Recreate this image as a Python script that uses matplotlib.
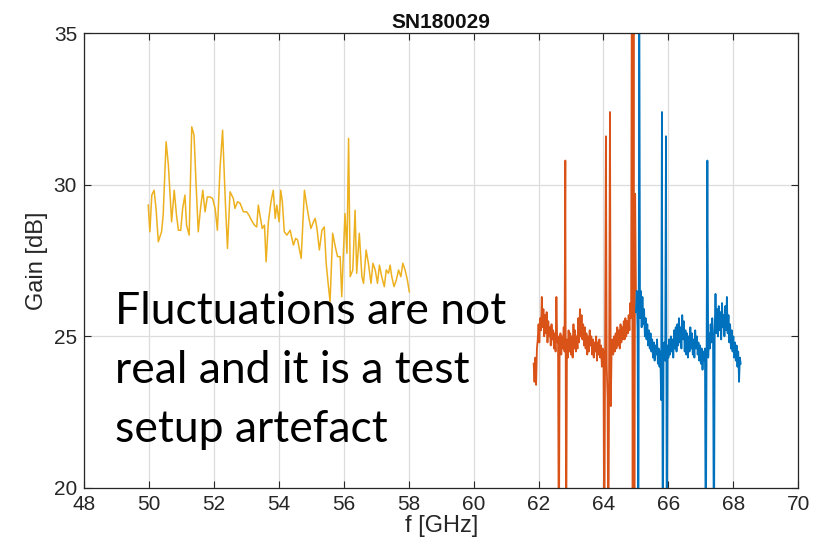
"""
plot.py

Gain vs frequency for unit SN180029 -- three swept bands, MATLAB-style look.
Saves out.png (823 x 544 px).
"""

import matplotlib
matplotlib.use("Agg")
import matplotlib.pyplot as plt
import numpy as np

OUT_PATH = "out.png"

# low band, 50-58 GHz
low_f = [
    49.98, 50.03, 50.09, 50.16, 50.22, 50.29, 50.39, 50.44, 50.53, 50.60,
    50.70, 50.78, 50.85, 50.91, 50.98, 51.04, 51.11, 51.16, 51.24, 51.32,
    51.39, 51.45, 51.52, 51.59, 51.66, 51.73, 51.80, 51.88, 51.96, 52.04,
    52.11, 52.19, 52.27, 52.35, 52.42, 52.50, 52.60, 52.65, 52.73, 52.81,
    52.91, 53.01, 53.08, 53.16, 53.25, 53.32, 53.37, 53.42, 53.49, 53.56,
    53.61, 53.68, 53.76, 53.83, 53.89, 53.94, 54.01, 54.06, 54.11, 54.17,
    54.25, 54.35, 54.45, 54.52, 54.58, 54.69, 54.79, 54.86, 54.91, 54.99,
    55.07, 55.12, 55.17, 55.25, 55.33, 55.40, 55.46, 55.53, 55.58, 55.66,
    55.74, 55.81, 55.89, 55.94, 55.99, 56.04, 56.10, 56.15, 56.20, 56.28,
    56.35, 56.40, 56.48, 56.56, 56.61, 56.69, 56.76, 56.84, 56.90, 56.97,
    57.04, 57.10, 57.17, 57.25, 57.31, 57.38, 57.43, 57.48, 57.55, 57.62,
    57.69, 57.76, 57.82, 57.89, 57.96, 58.02,
]
low_gain = [
    29.33, 28.45, 29.66, 29.82, 29.22, 28.12, 28.45, 29.00, 31.42, 30.65,
    28.78, 29.82, 29.00, 28.50, 28.50, 29.22, 29.66, 28.67, 28.34, 31.91,
    31.64, 30.10, 28.45, 29.22, 29.82, 29.11, 29.60, 29.60, 29.55, 29.22,
    28.50, 30.54, 31.80, 29.55, 27.90, 29.77, 29.55, 29.22, 29.44, 29.39,
    29.11, 29.11, 29.00, 28.83, 28.67, 28.61, 29.33, 29.00, 28.56, 28.67,
    27.46, 28.78, 29.44, 29.82, 28.89, 29.33, 28.78, 29.82, 29.44, 28.45,
    28.34, 28.50, 28.01, 28.23, 28.18, 27.57, 29.82, 29.33, 29.00, 28.56,
    28.78, 28.89, 28.61, 27.85, 28.50, 28.61, 27.41, 26.64, 26.15, 28.40,
    27.96, 27.63, 27.63, 26.31, 27.74, 29.05, 27.74, 31.53, 26.97, 27.19,
    29.16, 27.08, 28.40, 26.97, 26.75, 27.85, 27.41, 26.75, 27.41, 27.19,
    26.75, 27.35, 26.97, 26.64, 27.19, 27.08, 27.35, 26.97, 26.64, 26.86,
    27.19, 26.97, 27.41, 27.19, 26.86, 26.47,
]

# mid band, 61.85-65.0 GHz on a 25 MHz grid
mid_start, mid_stop = 61.85, 65.0
mid_gain = [
    24.1, 23.5, 24.3, 23.4, 24.6, 24.9, 25.4, 24.8, 25.6, 25.2,
    26.3, 25.3, 25.9, 25.0, 25.7, 25.1, 25.8, 24.8, 25.5, 25.0,
    25.3, 24.7, 25.4, 24.9, 25.2, 24.6, 25.1, 24.5, 26.3, 24.8,
    25.0, 17.0, 24.7, 25.1, 24.4, 25.0, 24.6, 25.3, 24.5, 30.8,
    17.0, 24.9, 24.3, 25.2, 24.5, 25.1, 24.4, 25.0, 24.3, 25.4,
    24.6, 25.2, 24.5, 25.0, 24.6, 25.6, 24.8, 25.9, 25.0, 25.7,
    24.9, 25.4, 24.7, 25.3, 24.6, 25.1, 24.4, 25.0, 24.5, 25.2,
    24.7, 25.0, 24.4, 24.9, 24.3, 24.8, 24.5, 25.0, 24.2, 24.8,
    24.4, 24.9, 24.3, 24.7, 24.0, 24.6, 24.5, 17.0, 24.8, 31.6,
    24.0, 23.0, 17.0, 24.6, 32.4, 22.7, 24.5, 24.9, 24.4, 25.0,
    24.5, 25.1, 24.6, 25.3, 24.7, 25.2, 24.6, 25.4, 24.8, 25.3,
    24.9, 25.5, 24.9, 25.6, 25.0, 25.5, 25.1, 25.7, 25.2, 26.1,
    25.6, 38.0, 17.0, 38.0, 17.0, 29.7, 26.5,
]

# high band, 65.0-68.225 GHz on a 25 MHz grid
high_start, high_stop = 65.0, 68.225
high_gain = [
    25.8, 26.5, 25.2, 17.0, 38.0, 25.6, 26.5, 25.3, 26.3, 25.4,
    25.9, 25.0, 25.6, 24.9, 25.4, 24.7, 25.2, 24.6, 25.1, 24.5,
    24.9, 24.3, 24.8, 24.2, 24.7, 24.4, 24.9, 24.1, 24.6, 24.0,
    24.5, 22.9, 32.4, 17.0, 24.4, 24.8, 24.2, 31.6, 17.0, 24.7,
    24.3, 24.9, 24.4, 25.0, 24.5, 24.9, 24.3, 25.2, 24.6, 25.3,
    24.5, 25.4, 24.7, 25.6, 24.8, 25.3, 24.6, 25.7, 24.9, 25.5,
    24.5, 25.2, 24.4, 25.1, 24.3, 25.0, 24.5, 25.3, 24.6, 25.1,
    24.4, 24.9, 24.3, 25.2, 24.6, 25.0, 24.4, 24.8, 24.2, 24.7,
    24.1, 24.6, 23.9, 24.5, 24.2, 24.6, 17.0, 24.5, 30.8, 24.3,
    25.1, 24.6, 25.4, 24.8, 25.6, 24.9, 17.0, 25.2, 26.4, 25.1,
    25.9, 25.0, 26.0, 25.2, 25.8, 24.9, 26.1, 25.3, 25.7, 25.0,
    26.0, 25.2, 26.3, 25.1, 25.7, 24.8, 25.4, 24.6, 25.2, 24.5,
    25.0, 24.3, 24.8, 24.2, 24.7, 24.0, 24.5, 23.5, 24.3, 24.1,
]

x_ticks = [48, 50, 52, 54, 56, 58, 60, 62, 64, 66, 68, 70]
y_ticks = [20, 25, 30, 35]

NOTE = "Fluctuations are not\nreal and it is a test\nsetup artefact"

# MATLAB default colour order
C_BLUE   = "#0072BD"
C_ORANGE = "#D95319"
C_YELLOW = "#EDB120"


def main():
    plt.rcParams["font.family"] = ["Liberation Sans Narrow", "Liberation Sans", "DejaVu Sans"]

    fig = plt.figure(figsize=(8.23, 5.44), dpi=100)
    ax = fig.add_axes([0.102, 0.103, 0.868, 0.836])

    mid_f  = np.linspace(mid_start, mid_stop, len(mid_gain))
    high_f = np.linspace(high_start, high_stop, len(high_gain))

    ax.plot(mid_f, mid_gain, color=C_ORANGE, linewidth=1.3)
    ax.plot(high_f, high_gain, color=C_BLUE, linewidth=1.3)
    ax.plot(low_f, low_gain, color=C_YELLOW, linewidth=1.1)

    ax.set_xlim(48, 70)
    ax.set_ylim(20, 35)
    ax.set_xticks(x_ticks)
    ax.set_yticks(y_ticks)
    ax.tick_params(direction="in", top=True, right=True, length=5,
                   labelsize=15, colors="#262626", pad=5)
    ax.grid(True, color="#dcdcdc", linewidth=0.9)
    ax.set_axisbelow(True)
    for sp in ax.spines.values():
        sp.set_color("#262626")
        sp.set_linewidth(0.9)

    ax.set_title("SN180029", fontsize=15, fontweight="bold", pad=4, color="#111111")
    ax.set_xlabel("f [GHz]", fontsize=17, color="#262626", labelpad=1)
    ax.set_ylabel("Gain [dB]", fontsize=17, color="#262626", labelpad=4)

    # big slide-style annotation over the plot
    fig.text(0.140, 0.465, NOTE, fontsize=32, family=["Lato", "DejaVu Sans"],
             ha="left", va="top", linespacing=1.54, color="black")

    fig.savefig(OUT_PATH, dpi=100)
    plt.close(fig)


if __name__ == "__main__":
    main()
